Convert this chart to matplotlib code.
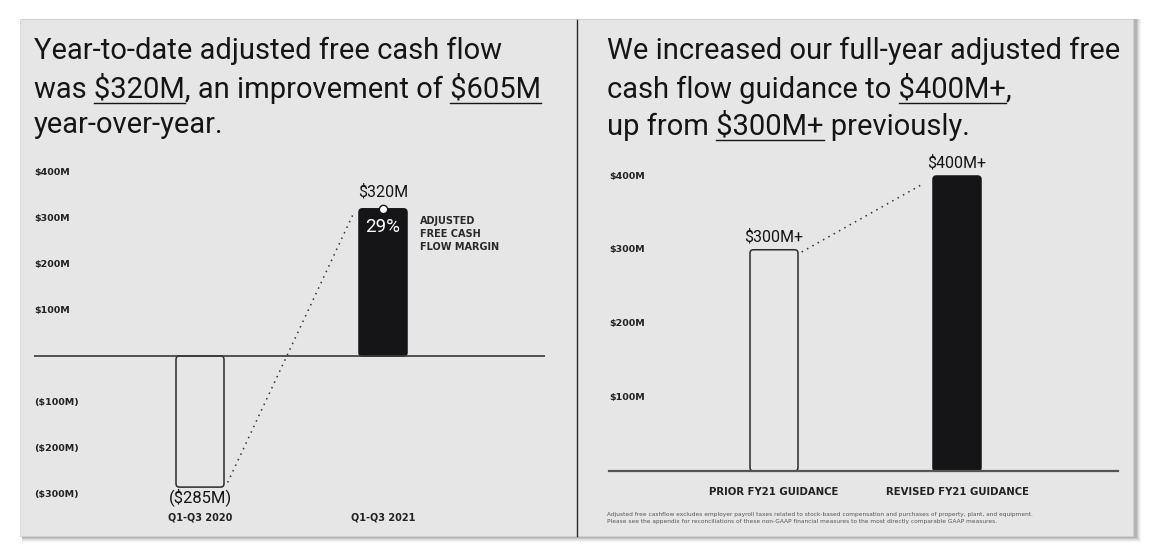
import matplotlib
matplotlib.use("Agg")
import matplotlib.pyplot as plt
from matplotlib.patches import Rectangle, FancyBboxPatch
from matplotlib.font_manager import FontProperties

plt.rcParams["text.parse_math"] = False

# ---------------- data ----------------
left_categories = ["Q1-Q3 2020", "Q1-Q3 2021"]
left_values = [-285, 320]
left_value_labels = ["($285M)", "$320M"]
left_ticks = [400, 300, 200, 100, -100, -200, -300]
left_tick_labels = ["$400M", "$300M", "$200M", "$100M", "($100M)", "($200M)", "($300M)"]
margin_label = "29%"
margin_note = "ADJUSTED\nFREE CASH\nFLOW MARGIN"

right_categories = ["PRIOR FY21 GUIDANCE", "REVISED FY21 GUIDANCE"]
right_values = [300, 400]
right_value_labels = ["$300M+", "$400M+"]
right_ticks = [400, 300, 200, 100]
right_tick_labels = ["$400M", "$300M", "$200M", "$100M"]

left_title = [
    [("Year-to-date adjusted free cash flow", False)],
    [("was ", False), ("$320M", True), (", an improvement of ", False), ("$605M", True)],
    [("year-over-year.", False)],
]
right_title = [
    [("We increased our full-year adjusted free", False)],
    [("cash flow guidance to ", False), ("$400M+", True), (",", False)],
    [("up from ", False), ("$300M+", True), (" previously.", False)],
]
footnote = ("Adjusted free cashflow excludes employer payroll taxes related to stock-based "
            "compensation and purchases of property, plant, and equipment.\n"
            "Please see the appendix for reconciliations of these non-GAAP financial "
            "measures to the most directly comparable GAAP measures.")

# ---------------- style ----------------
W, H = 1152, 557
DPI = 100
PANEL = "#e6e6e6"
INK = "#151518"
GRID = "#3a3a3a"
TITLE_FONT = "Roboto"
LABEL_FONT = "DejaVu Sans"

fig = plt.figure(figsize=(W / DPI, H / DPI), dpi=DPI)
fig.patch.set_facecolor("white")


def fx(px):
    return px / W


def fy(py):
    return 1 - py / H


# panel with soft shadow
for i, a in enumerate([0.04, 0.05, 0.06, 0.08, 0.10]):
    off = 6 - i
    fig.patches.append(Rectangle((fx(20 + 2), fy(536 + off)), fx(1113 + off), (517 + off) / H,
                                 transform=fig.transFigure, facecolor="#000000", alpha=a,
                                 edgecolor="none", zorder=-3))
fig.patches.append(Rectangle((fx(20), fy(536)), fx(1113), 517 / H, transform=fig.transFigure,
                             facecolor=PANEL, edgecolor="#d0d0d0", lw=0.5, zorder=-2))
fig.lines.append(plt.Line2D([fx(577), fx(577)], [fy(20), fy(536)], transform=fig.transFigure,
                            color="#2a2a2a", lw=1.0, zorder=-1))

renderer = fig.canvas.get_renderer()
tprop = FontProperties(family=TITLE_FONT, size=21.0)


def text_width(s, prop):
    t = fig.text(0, 0, s, fontproperties=prop)
    w = t.get_window_extent(renderer).width
    t.remove()
    return w


def rich_title(x_px, y_px, lines, line_h):
    for li, parts in enumerate(lines):
        y = y_px + li * line_h
        full = "".join(p for p, _ in parts)
        fig.text(fx(x_px), fy(y), full, fontproperties=tprop, color=INK,
                 va="center", ha="left", zorder=5)
        prefix = ""
        for p, ul in parts:
            if ul:
                x0 = x_px + text_width(prefix + p[0], tprop) - text_width(p[0], tprop)
                x1 = x_px + text_width(prefix + p, tprop)
                uy = y + 15
                fig.lines.append(plt.Line2D([fx(x0), fx(x1)], [fy(uy), fy(uy)],
                                            transform=fig.transFigure, color=INK, lw=1.0,
                                            zorder=5))
            prefix += p


rich_title(34, 51, left_title, 37)
rich_title(607, 51, right_title, 37)

bw = 48 / 183.0
xs = [0, 1]


def rounded_bars(ax, bars, faces, px_per_y, r_px=3.5):
    """Replace plain bar rectangles by rounded ones of the same geometry."""
    aspect = 183.0 / px_per_y
    for b, fc in zip(bars, faces):
        b.set_visible(False)
        x, y = b.get_x(), b.get_y()
        w, h = b.get_width(), b.get_height()
        if h < 0:
            y, h = y + h, -h
        p = FancyBboxPatch((x, y), w, h,
                           boxstyle=f"round,pad=0,rounding_size={r_px / 183.0}",
                           mutation_aspect=aspect, facecolor=fc,
                           edgecolor="#2a2a2a" if fc != INK else INK, lw=1.1, zorder=3)
        ax.add_patch(p)


# ---------------- left chart ----------------
kL = 0.46
axL = fig.add_axes([fx(34), fy(500), fx(545 - 34), (500 - 160) / H])
axL.set_xlim(-(200 - 34) / 183.0, 1 + (545 - 383) / 183.0)
axL.set_ylim(-(500 - 356) / kL, (356 - 160) / kL)
axL.axis("off")
axL.axhline(0, color=GRID, lw=1.2, zorder=4)
barsL = axL.bar(xs, left_values, width=bw)
rounded_bars(axL, barsL, [PANEL, INK], kL)
axL.plot([xs[0] + bw / 2 + 0.02, xs[1] - bw / 2 - 0.03],
         [left_values[0] + 10, left_values[1] - 10],
         color="#333333", lw=1.1, ls=(0, (1, 3)), zorder=2)
axL.plot([xs[1]], [left_values[1]], marker="o", ms=6, mfc="white", mec=INK, mew=1.0, zorder=5)
for v, lab in zip(left_ticks, left_tick_labels):
    axL.text(0, v, lab, transform=axL.get_yaxis_transform(), ha="left", va="center",
             fontsize=6.8, fontweight="bold", family=LABEL_FONT, color="#222222")
axL.text(xs[0], left_values[0] - 22, left_value_labels[0], ha="center", va="center",
         fontsize=12, family=TITLE_FONT, color=INK)
axL.text(xs[1], left_values[1] + 37, left_value_labels[1], ha="center", va="center",
         fontsize=11.5, family=TITLE_FONT, color=INK)
axL.text(xs[1], left_values[1] - 39, margin_label, ha="center", va="center",
         fontsize=13.5, family=TITLE_FONT, color="white", zorder=6)
axL.text(xs[1] + bw / 2 + 0.07, left_values[1] - 16, margin_note, ha="left", va="top",
         fontsize=7, family=LABEL_FONT, fontweight="bold", color="#2a2a2a", linespacing=1.35)
for x, c in zip(xs, left_categories):
    axL.text(x, -(517 - 356) / kL, c, ha="center", va="center", fontsize=7,
             family=LABEL_FONT, fontweight="bold", color="#222222", clip_on=False)

# ---------------- right chart ----------------
k = (471 - 176) / 400.0
axR = fig.add_axes([fx(609), fy(471), fx(1118 - 609), (471 - 150) / H])
axR.set_xlim(-(774 - 609) / 183.0, 1 + (1118 - 957) / 183.0)
axR.set_ylim(0, (471 - 150) / k)
axR.axis("off")
axR.axhline(0, color="#555555", lw=1.6, zorder=4, clip_on=False)
barsR = axR.bar(xs, right_values, width=bw)
rounded_bars(axR, barsR, [PANEL, INK], k)
axR.plot([xs[0] + bw / 2 + 0.02, xs[1] - bw / 2 - 0.05],
         [right_values[0] - 3, right_values[1] - 10],
         color="#333333", lw=1.1, ls=(0, (1, 3)), zorder=2)
for v, lab in zip(right_ticks, right_tick_labels):
    axR.text(0, v, lab, transform=axR.get_yaxis_transform(), ha="left", va="center",
             fontsize=6.8, fontweight="bold", family=LABEL_FONT, color="#222222")
for x, v, lab in zip(xs, right_values, right_value_labels):
    axR.text(x, v + 18, lab, ha="center", va="center", fontsize=11.5,
             family=TITLE_FONT, color=INK)
for x, c in zip(xs, right_categories):
    axR.text(x, -(492 - 471) / k, c, ha="center", va="center", fontsize=7.3,
             family=LABEL_FONT, fontweight="bold", color="#222222", clip_on=False)

fig.text(fx(607), fy(512), footnote, ha="left", va="top", fontsize=4.2,
         family=LABEL_FONT, color="#555555", linespacing=1.5)

fig.savefig("out.png", dpi=DPI, facecolor=fig.get_facecolor())
